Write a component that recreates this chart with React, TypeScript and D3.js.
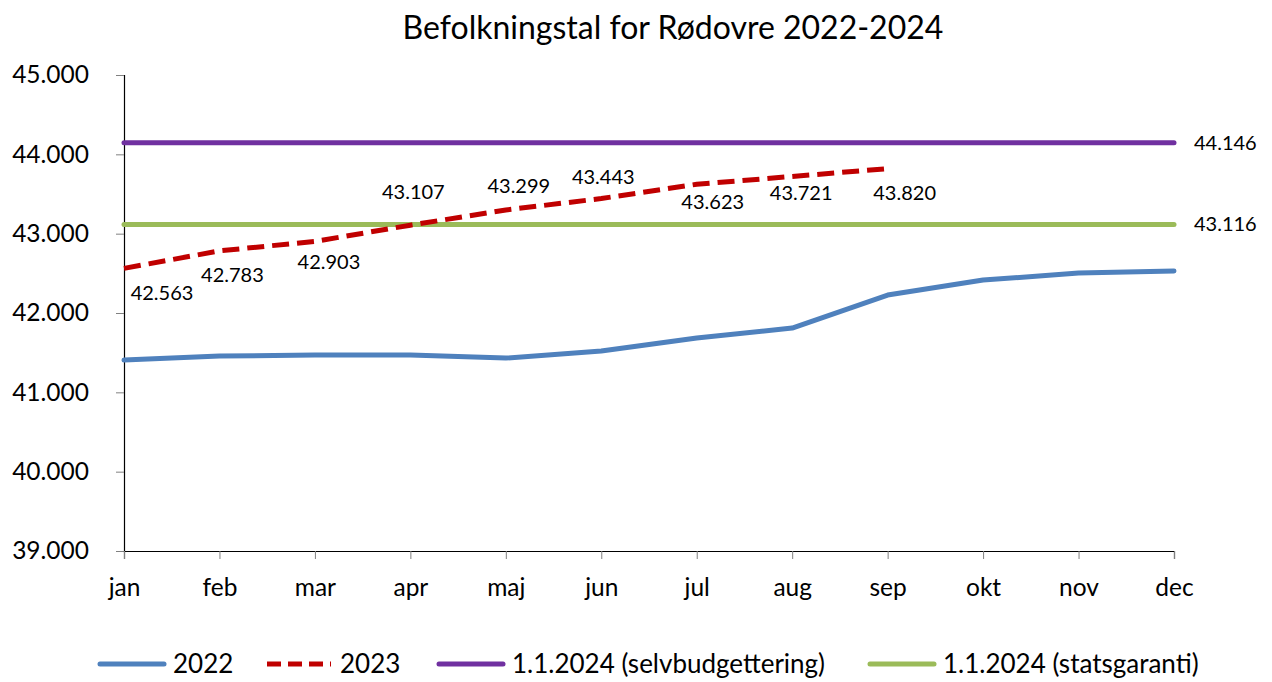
// D3.js — Befolkningstal for Rødovre 2022-2024
import React, { useEffect, useRef } from "react";
import * as d3 from "d3";

const months = ["jan", "feb", "mar", "apr", "maj", "jun", "jul", "aug", "sep", "okt", "nov", "dec"];
const pop2022 = [41407, 41457, 41470, 41470, 41432, 41520, 41684, 41810, 42226, 42415, 42503, 42529];
const pop2023 = [42563, 42783, 42903, 43107, 43299, 43443, 43623, 43721, 43820];
const selvbudget = 44146;
const statsgaranti = 43116;
const yTicks = [39000, 40000, 41000, 42000, 43000, 44000, 45000];

const legendItems = [
  { label: "2022", color: "#4F81BD", dash: "" },
  { label: "2023", color: "#C00000", dash: "14 7" },
  { label: "1.1.2024 (selvbudgettering)", color: "#7030A0", dash: "" },
  { label: "1.1.2024 (statsgaranti)", color: "#9BBB59", dash: "" },
];

// manual label nudges (like Excel's hand-placed data labels)
const labelNudge: [number, number][] = [
  [38, 25], [13, 24], [14, 21], [3, -33], [13, -24], [2, -22], [16, 18], [9, 17], [17, 24],
];

const fmt = (v: number) => d3.format(",")(v).replace(/,/g, ".");
const FONT = "Lato, 'Open Sans', sans-serif";

const App: React.FC = () => {
  const svgRef = useRef<SVGSVGElement>(null);

  useEffect(() => {
    if (!svgRef.current) return;
    const W = 1272, H = 682;
    const margin = { top: 75, right: 98, bottom: 131, left: 124 };
    const width = W - margin.left - margin.right;
    const height = H - margin.top - margin.bottom;

    const root = d3.select(svgRef.current);
    root.selectAll("*").remove();
    root.attr("width", W).attr("height", H).style("font-family", FONT);

    root.append("text")
      .attr("x", 673).attr("y", 39)
      .attr("text-anchor", "middle")
      .attr("font-size", 32)
      .attr("fill", "#000")
      .text("Befolkningstal for Rødovre 2022-2024");

    const svg = root.append("g").attr("transform", `translate(${margin.left},${margin.top})`);

    const x = d3.scalePoint<string>().domain(months).range([0, width]);
    const y = d3.scaleLinear().domain([39000, 45000]).range([height, 0]);

    // Y axis
    svg.append("g")
      .call(d3.axisLeft(y).tickValues(yTicks).tickSize(8).tickPadding(27).tickFormat(d => fmt(+d)))
      .call(g => g.select(".domain").attr("stroke", "#000").attr("stroke-width", 1.2))
      .call(g => g.selectAll(".tick line").attr("stroke", "#808080"))
      .call(g => g.selectAll(".tick text").attr("fill", "#000").attr("font-size", 24.5).attr("font-family", FONT));

    // X axis
    svg.append("g")
      .attr("transform", `translate(0,${height})`)
      .call(d3.axisBottom(x).tickSize(8).tickPadding(20))
      .call(g => g.select(".domain").attr("stroke", "#000").attr("stroke-width", 1.2))
      .call(g => g.selectAll(".tick line").attr("stroke", "#808080"))
      .call(g => g.selectAll(".tick text").attr("fill", "#000").attr("font-size", 24.5).attr("font-family", FONT));

    const line = d3.line<number>()
      .x((_, i) => x(months[i])!)
      .y(d => y(d));

    // reference lines
    const refs = [
      { v: selvbudget, color: "#7030A0" },
      { v: statsgaranti, color: "#9BBB59" },
    ];
    refs.forEach(r => {
      svg.append("path")
        .datum(months.map(() => r.v))
        .attr("d", line)
        .attr("fill", "none")
        .attr("stroke", r.color)
        .attr("stroke-width", 5)
        .attr("stroke-linecap", "round");
      svg.append("text")
        .attr("x", width + 20)
        .attr("y", y(r.v))
        .attr("dy", "0.35em")
        .attr("font-size", 20)
        .attr("fill", "#000")
        .text(fmt(r.v));
    });

    // 2022
    svg.append("path")
      .datum(pop2022)
      .attr("d", line)
      .attr("fill", "none")
      .attr("stroke", "#4F81BD")
      .attr("stroke-width", 5)
      .attr("stroke-linejoin", "round")
      .attr("stroke-linecap", "round");

    // 2023
    svg.append("path")
      .datum(pop2023)
      .attr("d", line)
      .attr("fill", "none")
      .attr("stroke", "#C00000")
      .attr("stroke-width", 5)
      .attr("stroke-dasharray", "17 8")
      .attr("stroke-linejoin", "round");

    svg.selectAll("text.lbl")
      .data(pop2023)
      .join("text")
      .attr("class", "lbl")
      .attr("x", (d, i) => x(months[i])! + labelNudge[i][0])
      .attr("y", (d, i) => y(d) + labelNudge[i][1])
      .attr("dy", "0.35em")
      .attr("text-anchor", "middle")
      .attr("font-size", 20)
      .attr("fill", "#000")
      .text(d => fmt(d));

    // Legend
    const legend = root.append("g").attr("transform", "translate(98,664)");
    const itemX = [0, 167, 339, 770];
    legendItems.forEach((it, i) => {
      const g = legend.append("g").attr("transform", `translate(${itemX[i]},0)`);
      g.append("line")
        .attr("x1", 2).attr("x2", 66)
        .attr("stroke", it.color)
        .attr("stroke-width", 5)
        .attr("stroke-linecap", it.dash ? "butt" : "round")
        .attr("stroke-dasharray", it.dash || null);
      g.append("text")
        .attr("x", 75)
        .attr("dy", "0.35em")
        .attr("font-size", 26)
        .attr("fill", "#000")
        .text(it.label);
    });
  }, []);

  return (
    <div style={{ position: "absolute", left: 0, top: 0 }}>
      <svg ref={svgRef} />
    </div>
  );
};

export default App;
